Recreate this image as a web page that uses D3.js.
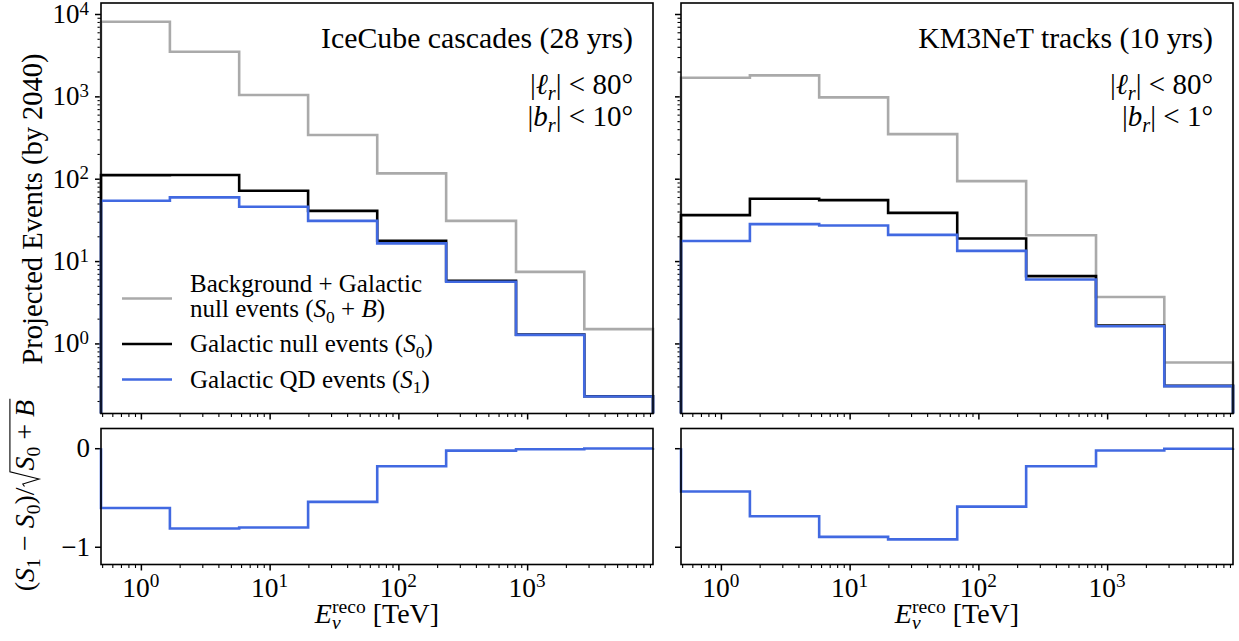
<!DOCTYPE html>
<html><head><meta charset="utf-8">
<script src="https://cdn.jsdelivr.net/npm/d3@7"></script>
<style>body{margin:0;background:#fff} svg{display:block} svg text{font-family:'Liberation Serif','Times New Roman','DejaVu Serif',serif}</style>
</head><body><svg id="c" width="1239" height="641"></svg>
<script>
// ---------- data ----------
const edges = [0.49, 1.68, 5.8, 19.9, 68.5, 235, 820, 2780, 9500];
const energyTicks = [1, 10, 100, 1000];
const countTicks = [1, 10, 100, 1000, 10000];
const ratioTicks = [0, -1];
const countDomain = [0.141, 13600];
const ratioDomain = [-1.18, 0.2];

const icBg    = [8060, 3480, 1037, 339, 116, 30.8, 7.4, 1.49];
const icS0    = [110.6, 111, 71.3, 40.7, 17.6, 5.75, 1.28, 0.228];
const icS1    = [53.9, 59.3, 45.6, 30.8, 16.4, 5.6, 1.27, 0.227];
const icRatio = [-0.606, -0.814, -0.804, -0.545, -0.183, -0.024, -0.010, -0.003];

const kmBg    = [1683, 1798, 972, 348, 93.5, 20.6, 3.67, 0.586];
const kmS0    = [36.1, 57.0, 55.0, 38.5, 18.8, 6.56, 1.65, 0.305];
const kmS1    = [17.5, 28.1, 27.0, 20.8, 13.3, 5.97, 1.62, 0.303];
const kmRatio = [-0.44, -0.69, -0.90, -0.925, -0.593, -0.183, -0.023, -0.006];

const titles = ["IceCube cascades (28 yrs)", "KM3NeT tracks (10 yrs)"];
const lCut = ["80°", "80°"];
const bCut = ["10°", "1°"];
const legendLabels = [
  [[{t:"Background + Galactic"}], [{t:"null events ("},{t:"S",i:1},{t:"0",sub:1},{t:" + "},{t:"B",i:1},{t:")"}]],
  [[{t:"Galactic null events ("},{t:"S",i:1},{t:"0",sub:1},{t:")"}]],
  [[{t:"Galactic QD events ("},{t:"S",i:1},{t:"1",sub:1},{t:")"}]]
];

const COL = {bg:"#aaaaaa", s0:"#000000", s1:"#4169e1"};

// ---------- helpers ----------
const svg = d3.select("#c");

function layout(container, segs, size, x0, supShift) {
  let cx = x0, lastStart = x0, lastEnd = x0;
  for (const s of segs) {
    if (s.sqrt) {
      const rw = 0.6*size, start = cx;
      const innerEnd = layout(container, s.sqrt, size, cx + rw, supShift);
      const top = -0.86*size;
      container.append("path")
        .attr("d", `M${start+0.03*size},${-0.34*size} L${start+0.12*size},${-0.40*size} L${start+0.30*size},${0.18*size} L${start+0.56*size},${top} L${innerEnd+0.04*size},${top}`)
        .attr("fill","none").attr("stroke","#000").attr("stroke-width",1.1);
      cx = innerEnd + 0.04*size; lastStart = start; lastEnd = cx;
      continue;
    }
    const sc = (s.sub||s.sup) ? 0.7 : 1;
    const dy = s.sub ? 0.22*size : s.sup ? -supShift*size : 0;
    const start = s.ov ? lastStart : cx;
    const t = container.append("text").attr("x", start).attr("y", dy)
      .attr("font-size", size*sc).attr("font-style", s.i ? "italic" : "normal")
      .attr("fill", "#000").style("white-space","pre").text(s.t);
    const w = t.node().getComputedTextLength();
    const end = start + w;
    cx = s.ov ? Math.max(lastEnd, end) : end;
    lastStart = start; lastEnd = end;
  }
  return cx;
}
function rich(parent, segs, o) {
  const g = parent.append("g").attr("transform", `translate(${o.x},${o.y})` + (o.rotate ? ` rotate(${o.rotate})` : ""));
  const inner = g.append("g");
  const W = layout(inner, segs, o.size, 0, o.sup || 0.38);
  const sh = o.anchor === "end" ? -W : o.anchor === "middle" ? -W/2 : 0;
  inner.attr("transform", `translate(${sh},0)`);
  return g;
}
function minorLog(domain) {
  const out = [];
  for (let k = -2; k <= 5; k++) for (let m = 2; m <= 9; m++) {
    const v = m*Math.pow(10,k);
    if (v >= domain[0] && v <= domain[1]) out.push(v);
  }
  return out;
}
function stairPoints(vals, base) {
  const pts = [[edges[0], base]];
  vals.forEach((v,i) => { pts.push([edges[i], v]); pts.push([edges[i+1], v]); });
  pts.push([edges[edges.length-1], base]);
  return pts;
}
function styleAxis(g, w) {
  g.select(".domain").remove();
  g.selectAll(".tick line").attr("stroke","#000").attr("stroke-width", w);
  g.selectAll(".tick text").remove();
}

// ---------- panels ----------
const panels = [
  {x0:101, x1:653, bg:icBg, s0:icS0, s1:icS1, ratio:icRatio, title:titles[0], l:lCut[0], b:bCut[0], labels:true},
  {x0:681, x1:1233, bg:kmBg, s0:kmS0, s1:kmS1, ratio:kmRatio, title:titles[1], l:lCut[1], b:bCut[1], labels:false}
];
const topY = [3, 413.5], botY = [428.5, 564.5];

panels.forEach(p => {
  const x = d3.scaleLog().domain([edges[0], edges[edges.length-1]]).range([p.x0, p.x1]);
  const yT = d3.scaleLog().domain(countDomain).range([topY[1], topY[0]]);
  const yB = d3.scaleLinear().domain(ratioDomain).range([botY[1], botY[0]]);
  const xMinor = minorLog(x.domain());
  const yMinor = minorLog(countDomain);

  [[energyTicks,6,1.5],[xMinor,3.5,1.1]].forEach(([tv,len,w]) => {
    styleAxis(svg.append("g").attr("transform",`translate(0,${topY[1]})`)
      .call(d3.axisBottom(x).tickValues(tv).tickSize(len).tickFormat("")), w);
    styleAxis(svg.append("g").attr("transform",`translate(0,${botY[1]})`)
      .call(d3.axisBottom(x).tickValues(tv).tickSize(len).tickFormat("")), w);
  });
  [[countTicks,6,1.5],[yMinor,3.5,1.1]].forEach(([tv,len,w]) => {
    styleAxis(svg.append("g").attr("transform",`translate(${p.x0},0)`)
      .call(d3.axisLeft(yT).tickValues(tv).tickSize(len).tickFormat("")), w);
  });
  styleAxis(svg.append("g").attr("transform",`translate(${p.x0},0)`)
    .call(d3.axisLeft(yB).tickValues(ratioTicks).tickSize(6).tickFormat("")), 1.5);

  energyTicks.forEach(v => {
    rich(svg, [{t:"10"},{t:String(Math.round(Math.log10(v))),sup:1}], {x:x(v), y:597, size:27.5, anchor:"middle"});
  });
  rich(svg, [{t:"E",i:1},{t:"ν",i:1,sub:1},{t:"reco",sup:1,ov:1},{t:" [TeV]"}], {x:(p.x0+p.x1)/2, y:623, size:28, anchor:"middle", sup:0.36});

  if (p.labels) {
    countTicks.forEach(v => {
      rich(svg, [{t:"10"},{t:String(Math.round(Math.log10(v))),sup:1}], {x:p.x0-12, y:yT(v)+9, size:27, anchor:"end", sup:0.31});
    });
    ratioTicks.forEach(v => {
      rich(svg, [{t: v<0 ? "−"+Math.abs(v) : String(v)}], {x:p.x0-11, y:yB(v)+9, size:27, anchor:"end"});
    });
  }

  const lineT = d3.line().x(d => x(d[0])).y(d => yT(d[1]));
  const lineB = d3.line().x(d => x(d[0])).y(d => yB(d[1]));
  [[p.bg,COL.bg],[p.s0,COL.s0],[p.s1,COL.s1]].forEach(([vals,c]) => {
    svg.append("path").attr("d", lineT(stairPoints(vals, countDomain[0])))
      .attr("fill","none").attr("stroke",c).attr("stroke-width",2.6);
  });
  svg.append("path").attr("d", lineB(stairPoints(p.ratio, 0)))
    .attr("fill","none").attr("stroke",COL.s1).attr("stroke-width",2.6);

  svg.append("rect").attr("x",p.x0).attr("y",topY[0]).attr("width",p.x1-p.x0).attr("height",topY[1]-topY[0])
    .attr("fill","none").attr("stroke","#000").attr("stroke-width",1.6);
  svg.append("rect").attr("x",p.x0).attr("y",botY[0]).attr("width",p.x1-p.x0).attr("height",botY[1]-botY[0])
    .attr("fill","none").attr("stroke","#000").attr("stroke-width",1.6);

  rich(svg, [{t:p.title}], {x:p.x1-20, y:48, size:29.8, anchor:"end"});
  rich(svg, [{t:"|"},{t:"ℓ",i:1},{t:"r",i:1,sub:1},{t:"| < "+p.l}], {x:p.x1-20, y:94, size:29, anchor:"end"});
  rich(svg, [{t:"|"},{t:"b",i:1},{t:"r",i:1,sub:1},{t:"| < "+p.b}], {x:p.x1-20, y:126, size:29, anchor:"end"});
});

const legY = [298.5, 344, 379.5];
const legCol = [COL.bg, COL.s0, COL.s1];
legendLabels.forEach((lines, i) => {
  svg.append("line").attr("x1",122).attr("x2",172).attr("y1",legY[i]).attr("y2",legY[i])
    .attr("stroke",legCol[i]).attr("stroke-width",2.6);
  const base = lines.length === 2 ? [legY[i]-6.5, legY[i]+18.5] : [legY[i]+8];
  lines.forEach((segs, j) => rich(svg, segs, {x:190, y:base[j], size:25, anchor:"start"}));
});

rich(svg, [{t:"Projected Events (by 2040)"}], {x:42, y:209, size:28.5, anchor:"middle", rotate:-90});
rich(svg, [{t:"("},{t:"S",i:1},{t:"1",sub:1},{t:" − "},{t:"S",i:1},{t:"0",sub:1},{t:")/"},
  {sqrt:[{t:"S",i:1},{t:"0",sub:1},{t:" + "},{t:"B",i:1}]}], {x:34, y:495, size:28, anchor:"middle", rotate:-90});
</script></body></html>
